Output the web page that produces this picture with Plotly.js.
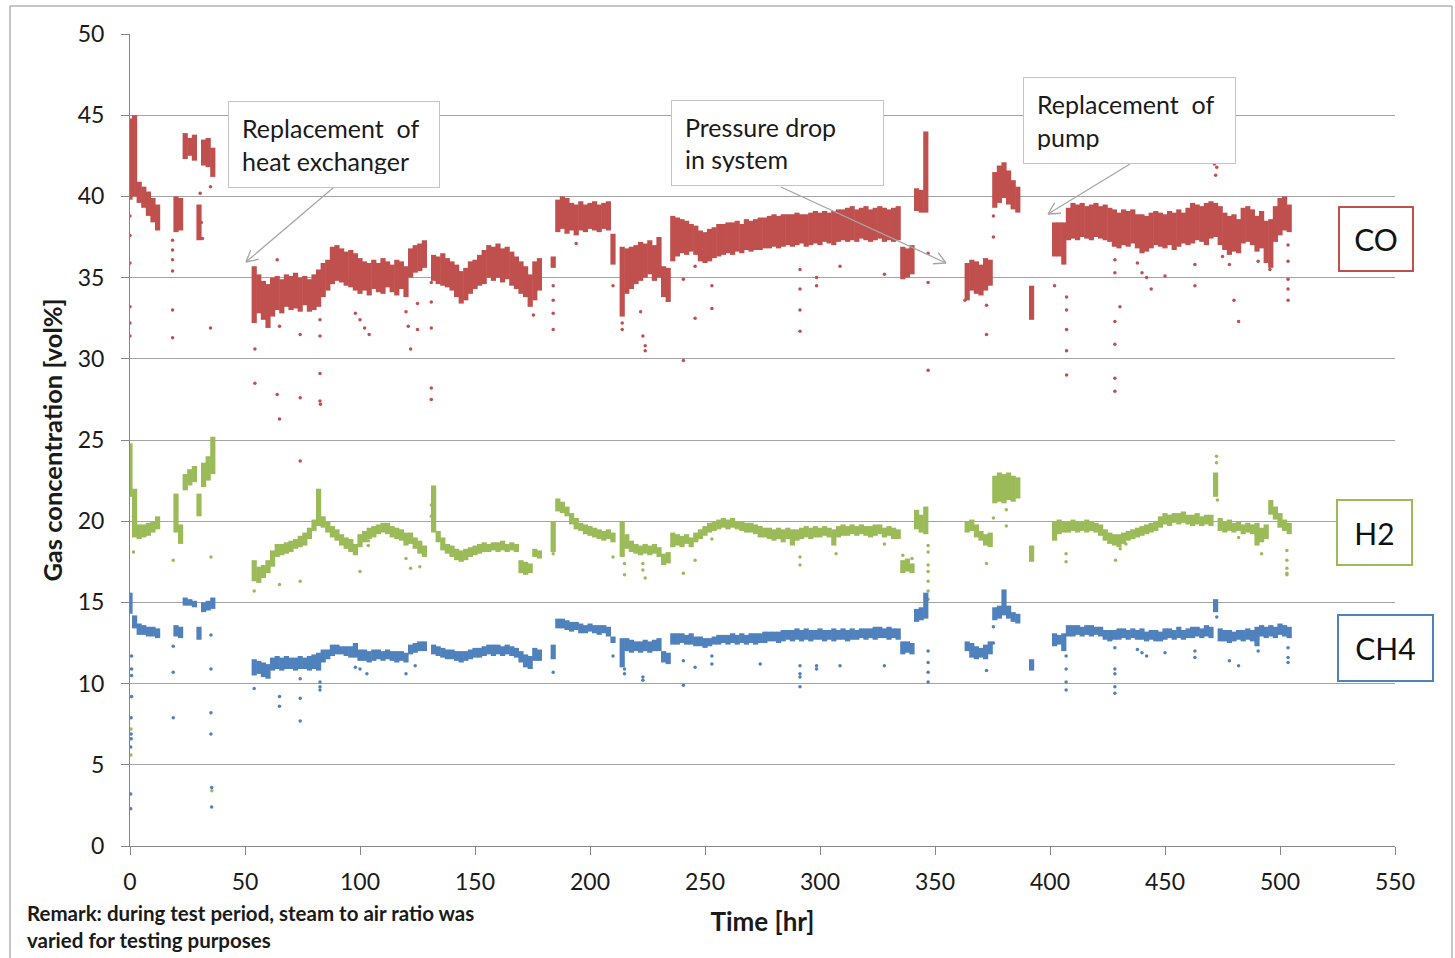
<!DOCTYPE html>
<html>
<head>
<meta charset="utf-8">
<script src="https://cdn.plot.ly/plotly-3.0.1.min.js"></script>
<style>html,body{margin:0;padding:0;background:#fff;}#chart{width:1455px;height:958px;}</style>
</head>
<body>
<div id="chart"></div>
<script>
const n = null;
// sample times [hr], one per 2 h
const TIMES = [
0,2,4,6,8,10,12,14,16,18, 20,22,24,26,28,30,32,34,36,38, 40,42,44,46,48,50,52,54,56,58,
60,62,64,66,68,70,72,74,76,78, 80,82,84,86,88,90,92,94,96,98, 100,102,104,106,108,110,112,114,116,118,
120,122,124,126,128,130,132,134,136,138, 140,142,144,146,148,150,152,154,156,158, 160,162,164,166,168,170,172,174,176,178,
180,182,184,186,188,190,192,194,196,198, 200,202,204,206,208,210,212,214,216,218, 220,222,224,226,228,230,232,234,236,238,
240,242,244,246,248,250,252,254,256,258, 260,262,264,266,268,270,272,274,276,278, 280,282,284,286,288,290,292,294,296,298,
300,302,304,306,308,310,312,314,316,318, 320,322,324,326,328,330,332,334,336,338, 340,342,344,346,348,350,352,354,356,358,
360,362,364,366,368,370,372,374,376,378, 380,382,384,386,388,390,392,394,396,398, 400,402,404,406,408,410,412,414,416,418,
420,422,424,426,428,430,432,434,436,438, 440,442,444,446,448,450,452,454,456,458, 460,462,464,466,468,470,472,474,476,478,
480,482,484,486,488,490,492,494,496,498, 500,502,504];

// CO [vol%] lower / upper edge of the scatter band at each time
const CO_LO = [
39.8,40.0,39.6,39.3,38.8,38.4,37.9,n,n,n,
37.8,37.9,42.3,42.5,42.2,37.3,41.9,41.8,41.2,n,
n,n,n,n,n,n,n,32.2,32.8,32.4,
31.9,32.6,33.0,32.8,33.2,33.0,33.1,32.9,33.3,32.9,
33.0,33.2,33.8,34.2,34.6,34.8,34.7,34.5,34.4,34.2,
34.0,34.2,33.9,34.3,34.1,34.0,34.4,34.1,33.9,34.3,
33.8,35.0,35.3,35.4,35.6,n,34.8,34.6,34.5,34.4,
34.2,33.8,33.4,33.6,34.0,34.3,34.5,34.6,35.0,34.8,
35.0,34.7,34.9,34.5,34.3,34.0,33.8,33.2,33.6,34.2,
n,n,35.6,37.8,38.0,37.7,37.9,37.6,37.9,37.8,
38.0,37.9,37.8,38.0,37.9,35.8,n,32.6,34.0,34.3,
34.6,34.8,35.0,35.2,34.8,35.0,33.8,33.5,36.0,36.3,
36.5,36.4,36.6,36.4,36.0,35.9,36.0,36.2,36.3,36.4,
36.5,36.4,36.6,36.5,36.7,36.6,36.7,36.7,36.8,36.8,
36.9,36.8,36.9,37.0,36.9,37.0,37.1,36.9,37.0,37.1,
37.0,37.2,37.1,37.0,37.2,37.3,37.2,37.3,37.2,37.4,
37.3,37.2,37.3,37.4,37.2,37.3,37.2,37.3,34.9,35.0,
35.2,39.1,39.0,39.0,n,n,n,n,n,n,
n,n,33.6,34.2,34.0,33.9,34.2,34.5,39.3,39.6,
39.9,39.5,39.2,39.0,n,n,32.4,n,n,n,
n,36.3,36.3,35.8,37.3,37.4,37.3,37.5,37.4,37.3,
37.5,37.4,37.3,37.2,36.9,36.8,37.0,36.9,37.1,36.8,
36.5,36.6,36.8,37.0,36.9,36.8,37.0,36.7,36.9,37.1,
37.0,37.1,37.3,37.2,37.0,37.4,37.5,37.0,36.7,36.4,
36.6,36.5,37.1,37.2,37.0,36.6,36.8,35.9,35.6,37.2,
37.6,37.9,37.8];
const CO_HI = [
44.8,45.0,40.9,40.6,40.3,39.9,39.5,n,n,n,
40.0,39.9,43.9,43.6,43.8,39.5,43.5,43.6,43.0,n,
n,n,n,n,n,n,n,35.7,35.2,34.8,
34.6,35.0,35.1,34.9,35.2,35.1,35.3,35.0,35.1,34.9,
35.2,35.5,35.9,36.1,36.9,37.0,36.8,36.6,36.7,36.5,
36.2,36.0,35.9,36.1,35.9,36.2,36.0,35.8,36.1,36.0,
35.7,36.8,37.0,37.1,37.3,n,36.4,36.3,36.5,36.2,
36.0,35.8,35.4,35.6,36.0,36.1,36.4,36.7,37.0,36.9,
37.1,36.8,36.9,36.6,36.3,36.0,35.7,35.2,36.0,36.2,
n,n,36.3,39.8,40.0,39.9,39.6,39.5,39.7,39.5,
39.6,39.7,39.5,39.6,39.7,37.7,n,36.9,36.8,36.9,
37.0,37.2,37.1,37.3,37.0,37.5,35.7,35.6,38.8,38.7,
38.6,38.5,38.3,38.2,37.9,37.8,38.0,38.1,38.3,38.3,
38.4,38.4,38.5,38.3,38.6,38.5,38.6,38.7,38.7,38.8,
38.9,38.8,38.9,38.9,38.9,39.0,38.9,38.9,39.0,39.1,
39.0,39.1,39.0,39.1,39.2,39.2,39.3,39.4,39.2,39.3,
39.4,39.2,39.3,39.4,39.3,39.2,39.3,39.4,36.9,36.8,
37.0,40.5,40.4,44.0,n,n,n,n,n,n,
n,n,35.9,36.1,36.0,35.8,36.2,36.1,41.5,41.9,
42.1,41.6,41.0,40.6,n,n,34.5,n,n,n,
n,38.4,38.4,38.4,39.3,39.6,39.5,39.6,39.4,39.5,
39.6,39.4,39.5,39.3,39.2,39.0,39.2,39.1,39.2,38.9,
38.9,38.8,39.0,39.1,39.0,38.9,39.1,39.0,39.2,39.0,
39.3,39.6,39.5,39.4,39.6,39.7,39.6,39.4,39.0,38.8,
38.9,38.6,39.3,39.4,39.2,38.8,39.1,38.5,38.6,39.4,
39.9,40.0,39.5];

// H2 [vol%]
const H2_LO = [
21.5,19.0,18.9,19.0,19.1,19.3,19.5,n,n,n,
19.3,18.6,21.9,22.2,22.4,20.3,22.1,22.5,22.9,n,
n,n,n,n,n,n,n,16.3,16.2,16.5,
16.8,17.2,17.8,17.9,18.0,18.1,18.3,18.4,18.5,18.9,
19.4,19.7,19.6,19.3,19.0,18.8,18.5,18.3,18.1,17.9,
18.4,18.7,18.9,19.0,19.2,19.3,19.2,19.0,18.9,18.8,
18.5,18.6,18.3,18.0,17.8,n,19.3,18.7,18.2,18.0,
17.8,17.6,17.5,17.6,17.8,17.9,18.0,18.1,18.1,18.2,
18.1,18.2,18.1,18.2,18.1,16.8,16.7,16.8,17.8,17.7,
n,n,18.1,20.6,20.5,20.3,19.8,19.5,19.4,19.2,
19.1,19.0,18.9,18.8,18.9,18.7,n,17.8,18.3,18.1,
18.0,17.9,18.0,17.9,18.0,17.8,17.3,17.4,18.4,18.5,
18.4,18.6,18.4,18.7,18.9,19.1,19.3,19.4,19.5,19.6,
19.5,19.6,19.5,19.4,19.3,19.3,19.2,19.0,19.0,18.9,
18.8,18.9,18.7,18.9,18.5,18.8,18.9,19.0,18.9,19.0,
19.0,19.1,19.0,18.5,19.0,19.1,19.1,19.2,19.1,19.2,
19.1,19.0,19.1,19.2,19.0,19.1,18.9,18.9,16.8,16.9,
16.8,19.5,19.3,19.2,n,n,n,n,n,n,
n,n,19.3,19.4,19.0,18.8,18.5,18.4,21.1,21.2,
21.1,21.3,21.2,21.4,n,n,17.5,n,n,n,
n,18.8,19.2,19.3,19.3,19.4,19.3,19.4,19.3,19.4,
19.3,19.1,18.8,18.6,18.5,18.4,18.6,18.8,18.9,19.0,
19.1,19.2,19.3,19.4,19.6,19.8,19.7,19.9,19.8,19.9,
19.8,19.7,19.8,19.7,19.8,19.7,21.5,19.4,19.3,19.4,
19.3,19.4,19.2,19.3,19.2,18.5,18.7,18.9,20.4,20.1,
19.6,19.4,19.2];
const H2_HI = [
24.8,22.0,19.8,19.8,19.9,20.0,20.3,n,n,n,
21.7,19.8,22.9,23.2,23.4,21.7,23.6,24.0,25.2,n,
n,n,n,n,n,n,n,17.6,17.2,17.3,
17.6,18.2,18.6,18.6,18.7,18.8,18.9,19.1,19.3,19.6,
20.1,22.0,20.3,20.0,19.7,19.5,19.2,19.0,18.9,18.6,
19.2,19.4,19.6,19.7,19.8,19.9,19.9,19.7,19.6,19.5,
19.3,19.3,19.0,18.8,18.5,n,22.2,19.4,19.0,18.6,
18.5,18.3,18.2,18.3,18.4,18.5,18.6,18.7,18.6,18.7,
18.7,18.8,18.6,18.7,18.6,17.6,17.5,17.4,18.3,18.2,
n,n,20.0,21.4,21.2,20.9,20.5,20.2,19.9,19.8,
19.7,19.6,19.5,19.4,19.5,19.3,n,20.0,19.2,18.8,
18.6,18.5,18.6,18.5,18.6,18.4,18.0,18.1,19.3,19.2,
19.1,19.2,19.0,19.3,19.5,19.7,19.9,20.0,20.1,20.2,
20.1,20.2,20.0,20.0,19.9,19.9,19.8,19.7,19.6,19.6,
19.5,19.6,19.5,19.6,19.5,19.5,19.6,19.7,19.6,19.7,
19.6,19.7,19.6,19.5,19.7,19.8,19.7,19.8,19.7,19.8,
19.7,19.7,19.8,19.8,19.6,19.7,19.6,19.5,17.6,17.7,
17.4,20.7,20.4,20.9,n,n,n,n,n,n,
n,n,20.0,20.1,19.8,19.4,19.2,19.3,22.8,23.0,
22.9,23.0,22.8,22.7,n,n,18.5,n,n,n,
n,20.0,20.1,20.0,20.0,20.1,20.0,20.0,20.1,20.0,
19.9,19.8,19.5,19.3,19.2,19.2,19.3,19.4,19.5,19.6,
19.7,19.8,19.9,20.0,20.3,20.5,20.4,20.5,20.5,20.6,
20.4,20.4,20.5,20.3,20.4,20.4,23.0,20.2,20.0,20.1,
19.9,20.0,19.8,19.9,19.8,19.9,19.6,19.8,21.3,20.9,
20.5,20.1,19.9];

// CH4 [vol%]
const CH4_LO = [
14.3,13.4,13.0,13.0,12.9,12.9,12.8,n,n,n,
12.9,12.8,14.8,14.8,14.7,12.7,14.4,14.5,14.6,n,
n,n,n,n,n,n,n,10.5,10.6,10.4,
10.3,10.8,10.9,10.8,10.9,10.9,10.8,10.9,10.9,10.8,
10.9,10.8,11.3,11.5,11.7,11.8,11.8,11.7,11.6,11.6,
11.4,11.4,11.3,11.4,11.5,11.4,11.5,11.4,11.3,11.4,
11.3,11.8,11.9,12.0,12.0,n,11.8,11.7,11.6,11.5,
11.5,11.4,11.3,11.4,11.5,11.6,11.6,11.7,11.8,11.7,
11.8,11.7,11.8,11.7,11.6,11.3,11.0,10.9,11.4,11.4,
n,n,11.5,13.4,13.4,13.3,13.2,13.3,13.1,13.1,
13.2,13.1,13.0,13.1,12.9,12.5,n,11.0,12.0,11.9,
12.0,11.9,12.0,11.9,12.0,12.0,11.3,11.2,12.4,12.4,
12.5,12.4,12.4,12.3,12.3,12.2,12.3,12.4,12.4,12.5,
12.4,12.5,12.4,12.5,12.4,12.5,12.4,12.5,12.5,12.6,
12.6,12.5,12.6,12.7,12.6,12.7,12.6,12.7,12.6,12.7,
12.7,12.6,12.7,12.6,12.7,12.7,12.6,12.7,12.7,12.8,
12.7,12.8,12.7,12.8,12.8,12.7,12.8,12.7,11.8,11.9,
11.8,13.8,13.9,14.0,n,n,n,n,n,n,
n,n,12.0,11.6,11.5,11.6,11.5,11.8,13.9,14.0,
14.2,14.0,13.8,13.7,n,n,10.8,n,n,n,
n,12.3,12.4,12.0,12.9,12.9,13.0,12.9,13.0,12.9,
13.0,12.9,12.7,12.6,12.7,12.7,12.8,12.7,12.8,12.7,
12.7,12.6,12.7,12.6,12.6,12.7,12.8,12.7,12.8,12.7,
12.8,12.8,12.9,12.8,12.9,12.8,14.4,12.6,12.6,12.5,
12.6,12.7,12.6,12.7,12.6,12.3,12.9,12.8,12.9,12.8,
13.0,12.9,12.8];
const CH4_HI = [
15.6,14.2,13.7,13.6,13.5,13.5,13.4,n,n,n,
13.6,13.5,15.3,15.2,15.1,13.5,15.0,15.1,15.3,n,
n,n,n,n,n,n,n,11.5,11.4,11.3,
11.2,11.6,11.7,11.6,11.7,11.6,11.6,11.7,11.6,11.7,
11.8,11.9,12.1,12.1,12.4,12.4,12.3,12.3,12.3,12.5,
12.1,12.1,12.0,12.1,12.1,12.0,12.1,12.0,12.0,12.0,
11.9,12.4,12.5,12.6,12.6,n,12.4,12.3,12.2,12.1,
12.1,12.0,12.0,12.0,12.1,12.2,12.2,12.3,12.4,12.4,
12.4,12.3,12.4,12.3,12.2,12.0,11.8,11.7,12.2,12.1,
n,n,12.4,14.0,14.0,13.9,13.8,13.8,13.7,13.6,
13.7,13.6,13.6,13.6,13.5,12.9,n,12.8,12.8,12.7,
12.6,12.6,12.7,12.6,12.7,12.8,12.0,11.9,13.1,13.1,
13.1,13.0,13.1,12.9,12.9,12.8,12.8,12.9,13.0,13.0,
13.0,13.1,13.0,13.1,13.0,13.1,13.1,13.1,13.2,13.2,
13.2,13.2,13.3,13.3,13.3,13.4,13.3,13.4,13.3,13.3,
13.4,13.3,13.3,13.4,13.3,13.4,13.3,13.4,13.3,13.4,
13.4,13.4,13.5,13.5,13.4,13.5,13.4,13.4,12.6,12.6,
12.5,14.6,14.7,15.6,n,n,n,n,n,n,
n,n,12.6,12.5,12.3,12.2,12.4,12.6,14.7,14.8,
15.8,14.8,14.4,14.3,n,n,11.5,n,n,n,
n,13.1,13.0,13.1,13.6,13.6,13.6,13.5,13.6,13.6,
13.5,13.5,13.3,13.3,13.3,13.4,13.4,13.3,13.4,13.3,
13.4,13.2,13.3,13.3,13.2,13.4,13.4,13.3,13.5,13.3,
13.4,13.5,13.5,13.4,13.6,13.5,15.2,13.4,13.3,13.3,
13.2,13.3,13.3,13.4,13.3,13.5,13.6,13.5,13.6,13.5,
13.7,13.6,13.5];

// isolated readings [time hr, vol%]
const CO_OUTLIERS = [
[0,38.8],[0,37.6],[0,35.9],[0,33.2],[0,32.2],[0,31.4],
[18.5,37.3],[18.5,36.7],[18.5,36.1],[18.5,35.4],[18.5,33.0],[18.5,31.3],
[30.5,40.2],[31,38.4],[31.5,37.4],[35,31.9],[35,40.6],
[54.3,30.6],[54.3,28.5],[64,36.1],[65,32.0],[65,26.3],[64,27.8],
[74,31.5],[74,27.6],[74,23.7],
[82.6,32.4],[82.6,31.4],[82.6,29.1],[82.6,27.4],[82.8,27.2],
[98,32.8],[100,32.4],[102,31.9],[104,31.5],
[120,32.9],[121,32.0],[122,30.6],[125,33.4],[125,31.8],
[131,34.7],[131,33.5],[131,31.9],[131,28.2],[131,27.5],
[175.4,32.7],[184,34.5],[184,33.6],[184,32.8],[184,31.8],[194,37.1],[210,34.5],[214,32.2],[214,31.8],
[222,32.9],[223,31.4],[224,30.8],[224,30.5],[240.6,34.9],[240.6,29.9],[245.7,35.7],[245.7,32.5],[253,34.5],[253,33.1],
[291.3,35.5],[291.3,34.3],[291.3,33.0],[291.3,31.7],[298.5,35.0],[298.5,34.5],[308.7,35.7],[328,35.2],
[347,36.5],[347,34.7],[347,29.3],[363,33.6],[372.4,33.3],[372.4,31.5],[375.4,38.8],[375.4,37.5],[402,34.5],
[407.2,33.8],[407.2,33.0],[407.2,31.8],[407.2,30.5],[407.2,29.0],
[428.2,36.1],[428.2,35.3],[428.2,32.3],[428.2,30.9],[428.2,28.8],[428.2,28.0],[430.4,33.2],
[438,35.9],[440,35.3],[442,35.0],[444,34.3],[450,35.1],[463,35.8],[463,34.5],
[475,36.3],[478,35.8],[480,33.6],[482,32.3],[490.5,36.0],[495.6,35.5],
[472,41.3],[472.5,41.8],[471.5,42.0],
[503.5,37.0],[503.5,36.0],[503.5,34.9],[503.5,34.3],[503.5,33.6]];
const H2_OUTLIERS = [
[1.5,18.1],[1.5,20.3],[0.4,7.2],[0.4,5.6],[18.8,17.6],[35.2,17.8],[35.6,3.4],[54,15.7],[65,16.1],[74,16.3],[100,16.9],[103.6,18.8],[103.6,18.5],
[120,17.7],[122,17.1],[126,17.2],[131,21.0],[131,20.3],
[184,18.0],[210,17.8],[215,17.4],[215,16.7],[223,17.4],[223,17.0],[224,16.5],[240.6,16.8],[245.7,17.6],[253,18.9],
[291.3,17.8],[291.3,17.3],[307,18.0],[328,18.6],[336,17.9],[340,17.7],
[347,18.5],[347,18.1],[347,17.3],[347,16.9],[347,16.3],[347,15.7],[347,15.2],
[372.4,17.4],[375.4,20.2],[381,20.7],[381,19.7],[407,18.0],[407,17.5],
[428.5,18.8],[428.5,17.6],[430.5,18.3],[433,18.6],[472.4,24.0],[472.4,23.6],[472.8,21.3],[482,19.0],[492,18.0],
[503,18.2],[503,17.6],[503,17.1],[503,16.8],[503,16.7]];
const CH4_OUTLIERS = [
[0.7,11.7],[0.7,10.9],[0.7,10.5],[0.7,9.2],[0.5,7.9],[0.5,6.9],[0.5,6.6],[0.3,6.1],[0.3,3.2],[0.3,2.3],
[18.8,12.3],[18.8,10.7],[18.8,7.9],
[35.2,13.0],[35.2,10.9],[35.2,8.2],[35.2,6.9],[35.5,3.6],[35.5,2.4],
[54,9.7],[65,9.2],[65,8.6],[74,10.3],[74,9.1],[74,7.7],[82.6,10.1],[82.6,9.8],[82.6,9.6],[98,11.0],[100,10.9],[103,10.6],[120,10.6],[124,11.1],
[184,10.7],[210,11.7],[215,10.9],[215,10.6],[223,10.4],[223,10.2],[240.6,11.4],[240.6,9.9],[245.7,11.0],[253,11.7],[253,11.2],
[274,11.2],[291.3,11.1],[291.3,10.6],[291.3,10.4],[291.3,9.8],[298.5,11.1],[298.5,10.9],[308.7,11.1],[328,11.1],
[347,12.0],[347,11.3],[347,10.7],[347,10.1],[372.4,10.8],[375.4,13.5],[375.4,12.5],[407,11.7],[407,10.9],[407,10.1],[407,9.6],
[428.2,12.2],[428.2,10.9],[428.2,10.6],[428.2,9.8],[428.2,9.4],[438,12.1],[440,11.9],[442,11.7],[450,11.9],[463,12.0],[463,11.6],
[478,11.4],[482,11.1],[490.5,12.0],[503.5,12.2],[503.5,11.6],[503.5,11.3],[472.5,14.1]];

const X_TICKS = [0,50,100,150,200,250,300,350,400,450,500,550];
const Y_TICKS = [0,5,10,15,20,25,30,35,40,45,50];

const COL = {CO:'#c0504d', H2:'#9bbb59', CH4:'#4f81bd'};
const FONT = 'Lato, "Open Sans", "Liberation Sans", sans-serif';

function bandTrace(lo, hi, color){
  const x=[], y=[];
  for(let i=0;i<TIMES.length;i++){
    if(lo[i]==null || hi[i]==null) continue;
    x.push(TIMES[i],TIMES[i],null); y.push(lo[i],hi[i],null);
  }
  return {type:'scatter', mode:'lines', x, y, line:{color, width:5.2}, hoverinfo:'skip', showlegend:false};
}
function dotTrace(pts, color){
  return {type:'scatter', mode:'markers', x:pts.map(p=>p[0]), y:pts.map(p=>p[1]),
    marker:{color, size:3.5}, hoverinfo:'skip', showlegend:false};
}

const data = [
  bandTrace(CO_LO, CO_HI, COL.CO), dotTrace(CO_OUTLIERS, COL.CO),
  bandTrace(H2_LO, H2_HI, COL.H2), dotTrace(H2_OUTLIERS, COL.H2),
  bandTrace(CH4_LO, CH4_HI, COL.CH4), dotTrace(CH4_OUTLIERS, COL.CH4)
];

// pixel helpers for the callout arrows (plot area 130..1395 x 34..846)
const PL=130, PT=34, PW=1265, PH=812;
const px2x = px => (px-PL)/PW*550;
const py2y = py => (PT+PH-py)/PH*50;
function arrowShapes(sx,sy,tx,ty){
  const c='#a6a6a6', w=1.3;
  const dx=tx-sx, dy=ty-sy, L=Math.hypot(dx,dy), ux=dx/L, uy=dy/L;
  const h=13, a=28*Math.PI/180;
  const shapes=[{type:'line',xref:'x',yref:'y',x0:px2x(sx),y0:py2y(sy),x1:px2x(tx),y1:py2y(ty),line:{color:c,width:w}}];
  [a,-a].forEach(b=>{
    const rx = ux*Math.cos(b) - uy*Math.sin(b), ry = ux*Math.sin(b) + uy*Math.cos(b);
    shapes.push({type:'line',xref:'x',yref:'y',x0:px2x(tx),y0:py2y(ty),x1:px2x(tx-h*rx),y1:py2y(ty-h*ry),line:{color:c,width:w}});
  });
  return shapes;
}
const shapes = [].concat(
  arrowShapes(333,188,246,262),
  arrowShapes(781,187,946,263),
  arrowShapes(1130,164,1048,214),
  [{type:'rect',xref:'paper',yref:'paper',x0:(10-PL)/PW,x1:(1452-PL)/PW,y0:(PT+PH-975)/PH,y1:(PT+PH-6)/PH,line:{color:'#8c8c8c',width:1}}]
);

function callout(cx,cy,text,w,h){
  return {xref:'x',yref:'y',x:px2x(cx),y:py2y(cy),text,showarrow:false,align:'left',
    font:{family:FONT,size:25,color:'#1a1a1a'},bgcolor:'#ffffff',bordercolor:'#c4c4c4',borderwidth:1,
    borderpad:13,width:w,height:h,xanchor:'center',yanchor:'middle'};
}
function tag(cx,cy,text,color,w,h){
  return {xref:'x',yref:'y',x:px2x(cx),y:py2y(cy),text,showarrow:false,
    font:{family:FONT,size:30,color:'#111'},bgcolor:'#ffffff',bordercolor:color,borderwidth:2,
    borderpad:0,width:w,height:h,xanchor:'center',yanchor:'middle'};
}

const annotations = [
  callout(334,144.5,'Replacement  of<br>heat exchanger',184,59),
  callout(777.5,143,'Pressure drop<br>in system',185,58),
  callout(1129.5,120.5,'Replacement  of<br>pump',185,59),
  tag(1376,239,'CO',COL.CO,72,62),
  tag(1374.5,532.5,'H2',COL.H2,73,63),
  tag(1385.5,648,'CH4',COL.CH4,93,64),
  {xref:'paper',yref:'paper',x:(25-PL)/PW,y:(PT+PH-926)/PH,xanchor:'left',yanchor:'middle',align:'left',showarrow:false,
   text:'Remark: during test period, steam to air ratio was<br>varied for testing purposes',
   font:{family:FONT,size:20.5,color:'#1a1a1a',weight:'bold'}}
];

const layout = {
  width:1455, height:958,
  margin:{l:PL, r:1455-PL-PW, t:PT, b:958-PT-PH},
  paper_bgcolor:'#ffffff', plot_bgcolor:'#ffffff',
  font:{family:FONT, color:'#1a1a1a'},
  showlegend:false,
  xaxis:{range:[0,550], tickvals:X_TICKS, ticktext:X_TICKS.map(String), showgrid:false, zeroline:false,
    showline:true, linecolor:'#868686', linewidth:1, ticks:'outside', ticklen:8, tickcolor:'#868686',
    tickfont:{family:FONT,size:23,color:'#1a1a1a'}, ticklabelstandoff:7,
    title:{text:'Time [hr]', font:{family:FONT,size:26,color:'#1a1a1a',weight:'bold'}, standoff:19}},
  yaxis:{range:[0,50], tickvals:Y_TICKS, ticktext:Y_TICKS.map(String), showgrid:true, gridcolor:'#a3a3a3', gridwidth:1,
    zeroline:false, showline:true, linecolor:'#868686', linewidth:1, ticks:'outside', ticklen:8, tickcolor:'#868686',
    tickfont:{family:FONT,size:23,color:'#1a1a1a'}, ticklabelstandoff:12,
    title:{text:'Gas concentration [vol%]', font:{family:FONT,size:25.5,color:'#1a1a1a',weight:'bold'}, standoff:7}},
  shapes, annotations
};

Plotly.newPlot('chart', data, layout, {staticPlot:true, displayModeBar:false});
</script>
</body>
</html>
